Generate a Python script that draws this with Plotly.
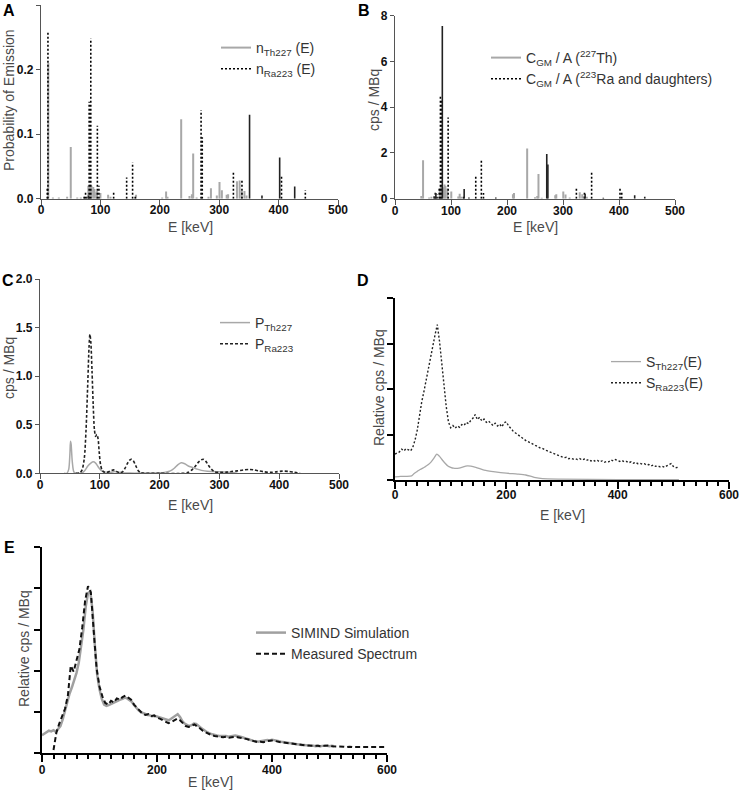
import plotly.graph_objects as go

# ---------------- DATA ----------------
# Panel A: emission probabilities (line spectra)
a_th_E = [12.3, 20, 30, 44, 50.1, 61, 67, 73, 79.7, 81, 83, 85, 88, 90, 93, 94.5, 100, 113, 117, 160, 204, 210.6, 213,
          236.0, 250, 254, 256.2, 262, 282, 286.1, 296, 300.5, 304.5, 312.6, 315, 329.9, 334.4, 338, 342.5, 346]
a_th_P = [0.21, 0.002, 0.002, 0.003, 0.080, 0.002, 0.002, 0.003, 0.020, 0.019, 0.022, 0.020, 0.018, 0.015, 0.010, 0.012,
          0.009, 0.006, 0.003, 0.006, 0.002, 0.011, 0.003, 0.123, 0.004, 0.007, 0.070, 0.002, 0.003, 0.016, 0.005, 0.026,
          0.013, 0.006, 0.007, 0.027, 0.028, 0.012, 0.012, 0.005]
a_ra_E = [10.5, 11.7, 72.8, 75, 81.1, 83.8, 94.9, 97.5, 122.3, 144.2, 154.2, 158.6, 269.5, 271.5, 323.9, 338.3, 404.9, 445.0]
a_ra_P = [0.016, 0.26, 0.006, 0.011, 0.15, 0.248, 0.113, 0.02, 0.012, 0.033, 0.056, 0.006, 0.137, 0.095, 0.04, 0.028,
          0.037, 0.013]
a_rad_E = [77, 80, 351.1, 372, 401.8, 427.1]
a_rad_P = [0.003, 0.005, 0.130, 0.005, 0.064, 0.019]

# Panel B: count rate per activity (line spectra)
b_th_E = [47, 50.1, 61, 65, 70, 80, 82, 86, 88.5, 90, 93.5, 100.5, 113, 115.5, 118, 210.6, 212.5, 236.0, 250, 254,
          256.2, 262, 286.1, 288, 300.5, 304.5, 312, 329.9, 334.4, 338, 342.5]
b_th_C = [0.12, 1.68, 0.05, 0.08, 0.12, 0.45, 0.55, 0.5, 0.62, 0.55, 0.45, 0.32, 0.1, 0.22, 0.08, 0.2, 0.25, 2.2, 0.06,
          0.12, 1.08, 0.04, 0.15, 0.2, 0.32, 0.18, 0.05, 0.28, 0.2, 0.12, 0.08]
b_ra_E = [72, 75, 79, 81.1, 83, 94.9, 122.3, 144.2, 154.2, 158, 323.9, 338.3, 351.1, 401.8, 404.9]
b_ra_C = [0.3, 0.2, 0.5, 4.5, 4.35, 3.55, 0.1, 1.05, 1.72, 0.25, 0.43, 0.3, 1.15, 0.5, 0.3]
b_rad_E = [70, 73, 84.5, 123.5, 132, 180, 271.0, 273.0, 339.5, 372, 428, 446]
b_rad_C = [0.1, 0.25, 7.55, 0.42, 0.05, 0.05, 1.95, 1.5, 0.22, 0.04, 0.15, 0.08]

# Panel C: peak responses
c_th_E = [40, 45, 48, 50, 51, 52, 54, 57, 62, 70, 75, 80, 85, 89, 93, 98, 103, 110, 118, 125, 132, 140, 150, 170, 200,
          210, 218, 225, 230, 236, 242, 248, 255, 262, 270, 280, 290, 300, 320, 330]
c_th_P = [0, 0.0, 0.04, 0.2, 0.33, 0.30, 0.12, 0.01, 0, 0.005, 0.03, 0.075, 0.105, 0.118, 0.105, 0.06, 0.025, 0.012,
          0.01, 0.018, 0.012, 0.004, 0.002, 0.002, 0.005, 0.012, 0.025, 0.055, 0.085, 0.108, 0.098, 0.075, 0.06, 0.045,
          0.03, 0.02, 0.018, 0.015, 0.012, 0.0]
c_ra_E = [60, 66, 70, 74, 77, 80, 82, 83.5, 85, 87, 89, 91, 93, 95, 97, 99, 101, 104, 108, 112, 118, 123, 128, 133,
          138, 142, 146, 150, 153, 156, 160, 164, 168, 172, 200, 240, 248, 255, 260, 265, 270, 273, 277, 282, 287, 292,
          298, 305, 312, 320, 330, 340, 350, 358, 366, 375, 385, 395, 405, 415, 425, 435]
c_ra_P = [0, 0.005, 0.03, 0.15, 0.45, 0.95, 1.3, 1.43, 1.35, 1.05, 0.7, 0.45, 0.38, 0.4, 0.36, 0.22, 0.1, 0.03, 0.01,
          0.01, 0.025, 0.035, 0.02, 0.005, 0.015, 0.05, 0.1, 0.135, 0.145, 0.13, 0.08, 0.03, 0.008, 0.002, 0.0, 0.0,
          0.01, 0.04, 0.075, 0.115, 0.14, 0.145, 0.125, 0.08, 0.04, 0.015, 0.01, 0.01, 0.012, 0.018, 0.025, 0.035, 0.04,
          0.035, 0.025, 0.015, 0.01, 0.015, 0.022, 0.02, 0.01, 0.0]

# Panel D: simulated spectra
d_th_E = [0, 10, 20, 30, 35, 40, 45, 50, 55, 60, 65, 70, 75, 80, 85, 90, 95, 100, 105, 115, 130, 145, 160, 180, 200,
          220, 235, 250, 265, 300, 400, 510]
d_th_S = [0.07, 0.08, 0.08, 0.09, 0.15, 0.19, 0.23, 0.26, 0.30, 0.34, 0.40, 0.48, 0.57, 0.52, 0.44, 0.37, 0.31, 0.28,
          0.26, 0.26, 0.31, 0.28, 0.22, 0.18, 0.15, 0.13, 0.11, 0.06, 0.03, 0.02, 0.01, 0.005]
d_ra_E = list(range(0, 512, 4))
d_ra_S = [0.57, 0.60, 0.62, 0.68, 0.64, 0.69, 0.66, 0.64, 0.72, 0.88, 1.10, 1.45, 1.72, 1.95, 2.22, 2.45, 2.70, 2.95,
          3.20, 3.42, 3.05, 2.55, 2.05, 1.62, 1.28, 1.15, 1.20, 1.14, 1.19, 1.16, 1.22, 1.20, 1.27, 1.24, 1.31, 1.36,
          1.44, 1.33, 1.38, 1.30, 1.34, 1.27, 1.30, 1.24, 1.20, 1.25, 1.19, 1.23, 1.17, 1.26, 1.28, 1.19, 1.13, 1.08,
          1.04, 1.00, 0.96, 0.93, 0.90, 0.86, 0.84, 0.81, 0.79, 0.76, 0.74, 0.71, 0.70, 0.67, 0.65, 0.63, 0.61, 0.58,
          0.57, 0.54, 0.52, 0.51, 0.49, 0.50, 0.47, 0.48, 0.46, 0.47, 0.45, 0.47, 0.44, 0.46, 0.43, 0.45, 0.42, 0.44,
          0.41, 0.43, 0.40, 0.42, 0.39, 0.41, 0.40, 0.44, 0.42, 0.45, 0.43, 0.41, 0.43, 0.40, 0.41, 0.38, 0.40, 0.37,
          0.39, 0.36, 0.37, 0.35, 0.36, 0.33, 0.34, 0.31, 0.33, 0.30, 0.31, 0.29, 0.30, 0.28, 0.31, 0.33, 0.36, 0.30,
          0.27, 0.28]

# Panel E: simulation vs measurement
e_sim_E = list(range(0, 512, 4))
e_sim_S = [0.44, 0.48, 0.52, 0.55, 0.53, 0.56, 0.52, 0.58, 0.66, 0.82, 1.05, 1.28, 1.45, 1.60, 1.76, 1.95, 2.20, 2.55,
           3.00, 3.55, 3.88, 3.92, 3.45, 2.60, 1.90, 1.55, 1.32, 1.18, 1.15, 1.17, 1.20, 1.22, 1.25, 1.28, 1.30, 1.32,
           1.35, 1.33, 1.30, 1.25, 1.17, 1.10, 1.04, 1.00, 0.97, 0.94, 0.93, 0.92, 0.90, 0.91, 0.89, 0.88, 0.86, 0.84,
           0.82, 0.80, 0.83, 0.87, 0.92, 0.95, 0.88, 0.78, 0.72, 0.68, 0.66, 0.68, 0.72, 0.71, 0.66, 0.62, 0.58, 0.54,
           0.50, 0.48, 0.46, 0.44, 0.43, 0.42, 0.42, 0.41, 0.42, 0.40, 0.41, 0.42, 0.43, 0.42, 0.41, 0.39, 0.37, 0.35,
           0.33, 0.31, 0.30, 0.29, 0.28, 0.29, 0.30, 0.31, 0.32, 0.31, 0.33, 0.32, 0.30, 0.29, 0.28, 0.27, 0.26, 0.25,
           0.24, 0.23, 0.22, 0.22, 0.21, 0.20, 0.20, 0.19, 0.19, 0.18, 0.18, 0.17, 0.18, 0.17, 0.18, 0.19, 0.18, 0.17,
           0.18, 0.17]
e_meas_E = list(range(20, 605, 5))
e_meas_S = [0.08, 0.50, 0.72, 0.90, 1.08, 1.40, 2.12, 1.98, 2.28, 2.52, 3.05, 3.70, 4.05, 3.90, 2.95, 2.05, 1.62, 1.38,
            1.22, 1.18, 1.27, 1.23, 1.33, 1.30, 1.36, 1.40, 1.35, 1.30, 1.18, 1.10, 1.02, 0.96, 0.93, 0.95, 0.90, 0.92,
            0.86, 0.84, 0.80, 0.76, 0.73, 0.76, 0.80, 0.84, 0.80, 0.72, 0.66, 0.64, 0.66, 0.70, 0.66, 0.60, 0.54, 0.50,
            0.47, 0.44, 0.42, 0.41, 0.40, 0.39, 0.40, 0.38, 0.39, 0.40, 0.39, 0.37, 0.36, 0.35, 0.33, 0.30, 0.28, 0.27,
            0.28, 0.27, 0.29, 0.30, 0.31, 0.30, 0.28, 0.27, 0.26, 0.25, 0.24, 0.23, 0.22, 0.21, 0.21, 0.20, 0.19, 0.19,
            0.18, 0.18, 0.18, 0.17, 0.18, 0.18, 0.19, 0.17, 0.17, 0.16, 0.16, 0.16, 0.15, 0.16, 0.15, 0.15, 0.15, 0.14,
            0.15, 0.14, 0.14, 0.15, 0.14, 0.14, 0.15, 0.14, 0.15]

# ---------------- HELPERS ----------------
W, H = 740, 799
FONT = "Liberation Sans"
GRAY = "#a8a8a8"
TXT = "#404040"


def dx(px):
    return px / W


def dy(py):
    return 1 - py / H


def stems(E, V):
    xs, ys = [], []
    for e, v in zip(E, V):
        xs += [e, e, None]
        ys += [0, v, None]
    return xs, ys


fig = go.Figure()

# Panel A
x, y = stems(a_th_E, a_th_P)
fig.add_trace(go.Scatter(x=x, y=y, mode="lines", line=dict(color=GRAY, width=2),
                         name="n<sub>Th227</sub> (E)", legend="legend", xaxis="x", yaxis="y"))
x, y = stems(a_ra_E, a_ra_P)
fig.add_trace(go.Scatter(x=x, y=y, mode="lines", line=dict(color="black", width=1.6, dash="2px,2px"),
                         name="n<sub>Ra223</sub> (E)", legend="legend", xaxis="x", yaxis="y"))
x, y = stems(a_rad_E, a_rad_P)
fig.add_trace(go.Scatter(x=x, y=y, mode="lines", line=dict(color="#222", width=1.6),
                         showlegend=False, xaxis="x", yaxis="y"))

# Panel B
x, y = stems(b_th_E, b_th_C)
fig.add_trace(go.Scatter(x=x, y=y, mode="lines", line=dict(color=GRAY, width=2),
                         name="C<sub>GM</sub> / A (<sup>227</sup>Th)", legend="legend2", xaxis="x2", yaxis="y2"))
x, y = stems(b_ra_E, b_ra_C)
fig.add_trace(go.Scatter(x=x, y=y, mode="lines", line=dict(color="black", width=1.6, dash="2px,2px"),
                         name="C<sub>GM</sub> / A (<sup>223</sup>Ra and daughters)", legend="legend2",
                         xaxis="x2", yaxis="y2"))
x, y = stems(b_rad_E, b_rad_C)
fig.add_trace(go.Scatter(x=x, y=y, mode="lines", line=dict(color="#222", width=1.6),
                         showlegend=False, xaxis="x2", yaxis="y2"))

# Panel C
fig.add_trace(go.Scatter(x=c_th_E, y=c_th_P, mode="lines", line=dict(color=GRAY, width=1.5, shape="spline", smoothing=0.8),
                         name="P<sub>Th227</sub>", legend="legend3", xaxis="x3", yaxis="y3"))
fig.add_trace(go.Scatter(x=c_ra_E, y=c_ra_P, mode="lines",
                         line=dict(color="#222", width=1.6, dash="3px,2px", shape="spline", smoothing=0.8),
                         name="P<sub>Ra223</sub>", legend="legend3", xaxis="x3", yaxis="y3"))

# Panel D
fig.add_trace(go.Scatter(x=d_th_E, y=d_th_S, mode="lines", line=dict(color=GRAY, width=1.3, shape="spline", smoothing=0.6),
                         name="S<sub>Th227</sub>(E)", legend="legend4", xaxis="x4", yaxis="y4"))
fig.add_trace(go.Scatter(x=d_ra_E, y=d_ra_S, mode="lines", line=dict(color="#222", width=1.4, dash="2px,2px"),
                         name="S<sub>Ra223</sub>(E)", legend="legend4", xaxis="x4", yaxis="y4"))

# Panel E
fig.add_trace(go.Scatter(x=e_sim_E, y=e_sim_S, mode="lines", line=dict(color="#a0a0a0", width=2.5),
                         name="SIMIND Simulation", legend="legend5", xaxis="x5", yaxis="y5"))
fig.add_trace(go.Scatter(x=e_meas_E, y=e_meas_S, mode="lines", line=dict(color="#111", width=2, dash="5px,3px"),
                         name="Measured Spectrum", legend="legend5", xaxis="x5", yaxis="y5"))

# ---------------- AXES ----------------
tickfont = dict(family=FONT, size=12, color="#111", weight="bold")


def xax(dom, anchor, rng, dtick, lw, lc, minor=False, standoff=-5):
    d = dict(domain=[dx(dom[0]), dx(dom[1])], anchor=anchor, range=rng, dtick=dtick, tick0=0, automargin=False,
             showline=True, linecolor=lc, linewidth=lw, showgrid=False, zeroline=False,
             ticks="outside", ticklen=5 if not minor else 7, tickwidth=lw, tickcolor=lc, tickfont=tickfont,
             tickprefix="<b>", ticksuffix="</b>", ticklabelstandoff=standoff)
    if minor:
        d["minor"] = dict(dtick=20, ticks="outside", ticklen=4, tickwidth=1.5, tickcolor=lc, showgrid=False)
    return d


def yax(dom, anchor, rng, dtick, lw, lc, fmt=None, labels=True, tlen=4):
    d = dict(domain=[dy(dom[1]), dy(dom[0])], anchor=anchor, range=rng, dtick=dtick, tick0=0, automargin=False,
             showline=True, linecolor=lc, linewidth=lw, showgrid=False, zeroline=False,
             ticks="outside", ticklen=tlen, tickwidth=lw, tickcolor=lc, tickfont=tickfont,
             showticklabels=labels, tickprefix="<b>", ticksuffix="</b>")
    if fmt:
        d["tickformat"] = fmt
    return d


AX = "#555"
layout = dict(
    template="none",
    width=W, height=H, margin=dict(l=0, r=0, t=0, b=0, pad=0, autoexpand=False),
    paper_bgcolor="white", plot_bgcolor="white",
    font=dict(family=FONT, color=TXT),
    xaxis=xax((41, 338), "y", [0, 500], 100, 1.3, AX, standoff=-5),
    yaxis=yax((5, 198.7), "x", [0, 0.3], 0.1, 1.3, AX, ".1f"),
    xaxis2=xax((395, 675), "y2", [0, 500], 100, 1.3, AX, standoff=-4),
    yaxis2=yax((15.7, 198.7), "x2", [0, 8], 2, 1.3, AX),
    xaxis3=xax((40, 339), "y3", [0, 500], 100, 1.3, AX, standoff=-5),
    yaxis3=yax((279, 473.3), "x3", [0, 2], 0.5, 1.3, AX, ".1f"),
    xaxis4=xax((395, 729), "y4", [0, 600], 200, 2, "black", minor=True, standoff=-4),
    yaxis4=yax((298.3, 480), "x4", [0, 4], 1, 2, "black", labels=False, tlen=6),
    xaxis5=xax((42, 387), "y5", [0, 600], 200, 2, "black", minor=True, standoff=-3),
    yaxis5=yax((547, 753.3), "x5", [0, 5], 1, 2, "black", labels=False, tlen=6),
)

legfont = dict(family=FONT, size=14, color="#333")


def leg(textx, rowy):
    return dict(x=dx(textx - 42), y=dy(rowy - 17), xanchor="left", yanchor="top", xref="paper", yref="paper",
                bgcolor="rgba(0,0,0,0)", font=legfont, tracegroupgap=0, itemwidth=30, borderwidth=0)


layout["legend"] = leg(258, 49)
layout["legend2"] = leg(528, 59)
layout["legend3"] = leg(257, 324)
layout["legend4"] = leg(648, 363)
layout["legend5"] = leg(293, 634)

fig.update_layout(**layout)

# ---------------- TEXT ----------------
ann = []
TITLE = "#4a4a4a"


def text(t, px, py, size, angle=0, color=TITLE):
    ann.append(dict(text=t, x=dx(px), y=dy(py), xref="paper", yref="paper", showarrow=False,
                    textangle=angle, xanchor="center", yanchor="middle",
                    font=dict(family=FONT, size=size, color=color)))


for lab, px, py in [("A", 9, 11), ("B", 364, 11), ("C", 8, 280), ("D", 363, 280), ("E", 9, 547)]:
    text("<b>" + lab + "</b>", px, py, 16, color="black")

text("Probability of Emission", 9, 100, 14, angle=-90)
text("E [keV]", 190, 227, 14)
text("cps / MBq", 374, 100, 14, angle=-90)
text("E [keV]", 535, 227, 14)
text("cps / MBq", 9, 368, 14, angle=-90)
text("E [keV]", 190, 505, 14)
text("Relative cps / MBq", 379, 388, 14, angle=-90)
text("E [keV]", 562, 515, 14)
text("Relative cps / MBq", 24, 649, 14, angle=-90)
text("E [keV]", 210, 782, 14)

fig.update_layout(annotations=ann)
# remove the default 8px page margin so the 740x799 figure fills the window exactly
fig.write_html("out.html", config={"displayModeBar": False},
               post_script="document.body.style.margin='0';document.body.style.overflow='hidden';")
